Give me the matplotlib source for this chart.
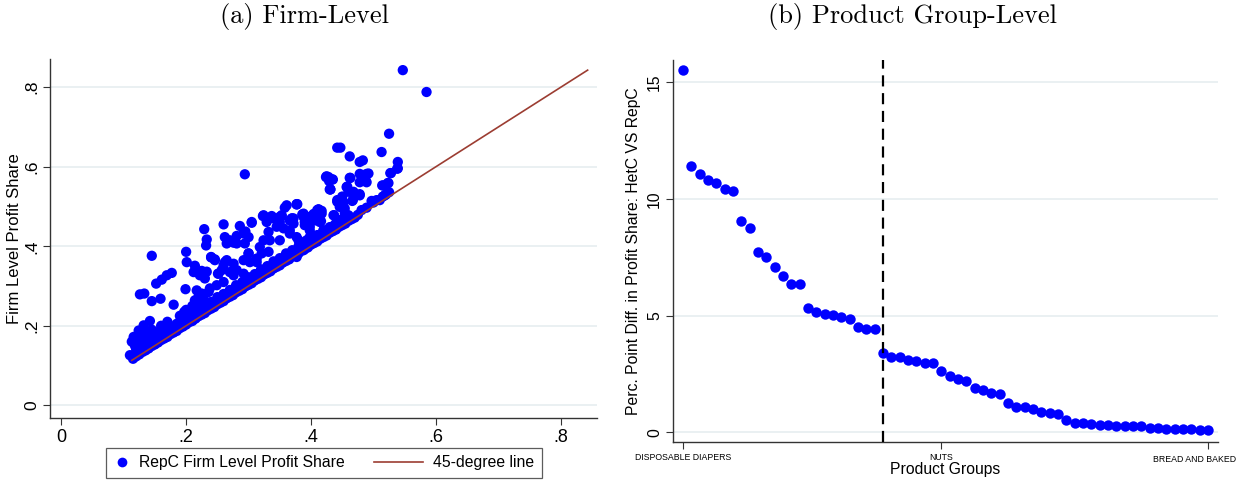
import matplotlib
matplotlib.use("Agg")
import matplotlib.pyplot as plt
from matplotlib.lines import Line2D
from matplotlib.legend_handler import HandlerBase

plt.rcParams['font.family'] = ['Liberation Sans', 'DejaVu Sans']

# (a) firm level: RepC profit share
firm_x = [
    0.547, 0.585, 0.525, 0.442, 0.447, 0.513, 0.462, 0.294, 0.478, 0.483,
    0.539, 0.539, 0.425, 0.434, 0.462, 0.478, 0.489, 0.478, 0.489, 0.528,
    0.514, 0.523, 0.430, 0.458, 0.468, 0.478, 0.450, 0.466, 0.442, 0.378,
    0.358, 0.323, 0.337, 0.353, 0.370, 0.386, 0.404, 0.412, 0.416, 0.437,
    0.260, 0.286, 0.305, 0.229, 0.295, 0.262, 0.281, 0.276, 0.233, 0.200,
    0.145, 0.240, 0.246, 0.300, 0.313, 0.292, 0.262, 0.201, 0.214, 0.225,
    0.233, 0.177, 0.169, 0.161, 0.152, 0.251, 0.199, 0.126, 0.133, 0.145,
    0.159, 0.180, 0.220, 0.217, 0.228, 0.236, 0.197, 0.156, 0.142, 0.132,
    0.124, 0.116, 0.113, 0.110,
    # middle cluster
    0.377, 0.388, 0.390, 0.350, 0.366, 0.372, 0.329, 0.345, 0.356, 0.332,
    0.324, 0.318, 0.334, 0.350, 0.366, 0.377, 0.382, 0.398, 0.406, 0.292,
    0.300, 0.294, 0.265, 0.270, 0.281, 0.232, 0.240, 0.246, 0.212, 0.222,
    0.230, 0.260, 0.265, 0.276, 0.281, 0.292, 0.300, 0.302, 0.313, 0.321,
    0.332, 0.252, 0.257, 0.270, 0.276, 0.217, 0.225, 0.238, 0.249, 0.260,
    0.214, 0.228, 0.366, 0.377, 0.388, 0.393, 0.398,
    # upper right cluster
    0.428, 0.435, 0.463, 0.492, 0.488, 0.527, 0.538, 0.524, 0.516, 0.431,
    0.457, 0.460, 0.468, 0.478, 0.467, 0.452, 0.444, 0.446, 0.454, 0.497,
    0.510, 0.518, 0.377, 0.410, 0.417, 0.372, 0.388, 0.390, 0.406, 0.414,
    0.436, 0.454, 0.481, 0.489, 0.366, 0.380, 0.398, 0.420, 0.438, 0.412,
    0.433, 0.500, 0.505, 0.515, 0.520, 0.525, 0.424, 0.429, 0.431, 0.442,
    0.361, 0.388, 0.353, 0.412, 0.417, 0.324, 0.305, 0.340, 0.350, 0.369,
    0.398,
    # lower left cluster
    0.118, 0.120, 0.125, 0.128, 0.132, 0.135, 0.138, 0.140, 0.145, 0.150,
    0.155, 0.160, 0.165, 0.170, 0.175, 0.185, 0.190, 0.195, 0.200, 0.205,
    0.210, 0.215, 0.220, 0.225, 0.230,
    # band just above the line
    0.115, 0.120, 0.125, 0.130, 0.135, 0.140, 0.145, 0.150, 0.155, 0.160,
    0.165, 0.170, 0.175, 0.180, 0.185, 0.190, 0.195, 0.200, 0.205, 0.210,
    0.215, 0.220, 0.225, 0.230, 0.235, 0.240, 0.245, 0.250, 0.255, 0.260,
    0.265, 0.270, 0.275, 0.280, 0.285, 0.290, 0.295, 0.300, 0.305, 0.310,
    0.315, 0.320, 0.325, 0.330, 0.335, 0.340, 0.345, 0.350, 0.355, 0.360,
    0.365, 0.370, 0.375, 0.380, 0.385, 0.390, 0.395, 0.400, 0.405, 0.410,
    0.415, 0.420, 0.425, 0.430, 0.435, 0.440, 0.445, 0.450, 0.455, 0.460,
    0.465, 0.470, 0.475,
    # second row of the band
    0.120, 0.130, 0.140, 0.150, 0.160, 0.170, 0.180, 0.190, 0.200, 0.210,
    0.220, 0.230, 0.240, 0.250, 0.260, 0.270, 0.280, 0.290, 0.300, 0.310,
    0.320, 0.330, 0.340, 0.350, 0.360, 0.370, 0.380, 0.390, 0.400, 0.410,
    0.420, 0.430, 0.440, 0.450, 0.460,
]
firm_y = [
    0.843, 0.788, 0.683, 0.648, 0.648, 0.637, 0.626, 0.581, 0.612, 0.616,
    0.612, 0.596, 0.576, 0.568, 0.572, 0.582, 0.582, 0.561, 0.561, 0.584,
    0.553, 0.559, 0.543, 0.550, 0.537, 0.531, 0.525, 0.514, 0.512, 0.506,
    0.497, 0.476, 0.476, 0.476, 0.470, 0.480, 0.481, 0.493, 0.463, 0.478,
    0.455, 0.451, 0.459, 0.443, 0.437, 0.423, 0.426, 0.409, 0.417, 0.386,
    0.376, 0.372, 0.367, 0.382, 0.369, 0.365, 0.360, 0.360, 0.351, 0.338,
    0.336, 0.333, 0.327, 0.316, 0.306, 0.331, 0.292, 0.279, 0.281, 0.262,
    0.268, 0.253, 0.273, 0.260, 0.256, 0.285, 0.235, 0.185, 0.212, 0.201,
    0.188, 0.172, 0.160, 0.126,
    0.505, 0.478, 0.461, 0.474, 0.465, 0.457, 0.461, 0.449, 0.445, 0.436,
    0.415, 0.398, 0.415, 0.415, 0.432, 0.423, 0.407, 0.449, 0.465, 0.432,
    0.423, 0.407, 0.407, 0.415, 0.407, 0.402, 0.373, 0.365, 0.335, 0.327,
    0.319, 0.352, 0.365, 0.356, 0.340, 0.331, 0.382, 0.360, 0.360, 0.382,
    0.386, 0.331, 0.340, 0.335, 0.327, 0.289, 0.281, 0.294, 0.302, 0.310,
    0.264, 0.268, 0.382, 0.373, 0.390, 0.415, 0.423,
    0.574, 0.568, 0.572, 0.583, 0.564, 0.584, 0.595, 0.559, 0.553, 0.543,
    0.549, 0.537, 0.533, 0.528, 0.516, 0.511, 0.516, 0.499, 0.495, 0.514,
    0.516, 0.528, 0.506, 0.491, 0.489, 0.470, 0.474, 0.453, 0.482, 0.461,
    0.478, 0.484, 0.491, 0.497, 0.440, 0.415, 0.440, 0.440, 0.453, 0.419,
    0.449, 0.510, 0.516, 0.525, 0.530, 0.536, 0.574, 0.564, 0.543, 0.516,
    0.503, 0.482, 0.478, 0.492, 0.482, 0.478, 0.461, 0.470, 0.461, 0.470,
    0.474,
    0.150, 0.165, 0.158, 0.175, 0.145, 0.185, 0.170, 0.155, 0.190, 0.175,
    0.160, 0.200, 0.180, 0.210, 0.195, 0.205, 0.225, 0.215, 0.240, 0.230,
    0.250, 0.260, 0.245, 0.270, 0.258,
    0.117, 0.123, 0.128, 0.134, 0.138, 0.143, 0.149, 0.153, 0.158, 0.164,
    0.168, 0.172, 0.179, 0.183, 0.187, 0.194, 0.198, 0.203, 0.209, 0.212,
    0.218, 0.224, 0.228, 0.232, 0.239, 0.243, 0.247, 0.254, 0.258, 0.262,
    0.269, 0.273, 0.277, 0.284, 0.288, 0.292, 0.299, 0.303, 0.307, 0.314,
    0.318, 0.322, 0.329, 0.333, 0.337, 0.344, 0.348, 0.352, 0.359, 0.363,
    0.367, 0.374, 0.378, 0.382, 0.389, 0.393, 0.397, 0.404, 0.408, 0.412,
    0.419, 0.423, 0.427, 0.434, 0.438, 0.442, 0.449, 0.453, 0.457, 0.464,
    0.468, 0.472, 0.479,
    0.140, 0.150, 0.160, 0.168, 0.178, 0.190, 0.198, 0.210, 0.222, 0.228,
    0.240, 0.252, 0.260, 0.272, 0.280, 0.290, 0.302, 0.310, 0.322, 0.330,
    0.342, 0.350, 0.362, 0.370, 0.382, 0.390, 0.400, 0.410, 0.420, 0.428,
    0.440, 0.448, 0.458, 0.468, 0.478,
]
diag = [0.113, 0.843]

# (b) product group level: percentage point difference, sorted
group_diff = [
    15.53, 11.43, 11.07, 10.81, 10.67, 10.43, 10.33, 9.07, 8.74, 7.71,
    7.51, 7.09, 6.71, 6.36, 6.36, 5.34, 5.16, 5.07, 5.04, 4.96,
    4.87, 4.53, 4.44, 4.43, 3.40, 3.21, 3.21, 3.11, 3.06, 2.96,
    2.96, 2.61, 2.40, 2.27, 2.20, 1.89, 1.80, 1.70, 1.64, 1.24,
    1.07, 1.07, 1.00, 0.87, 0.83, 0.77, 0.53, 0.40, 0.39, 0.36,
    0.33, 0.33, 0.29, 0.29, 0.29, 0.29, 0.20, 0.17, 0.14, 0.14,
    0.14, 0.13, 0.10, 0.10,
]
group_ticks = [0, 31, 63]
group_names = ["DISPOSABLE DIAPERS", "NUTS", "BREAD AND BAKED"]
cutoff = 24

blue = "#0000FF"
red = "#9C3D32"
grid_col = "#E6EEF0"


class LongLine(HandlerBase):
    # legend key line that reaches further left than the key box
    def create_artists(self, legend, orig_handle, xdescent, ydescent,
                       width, height, fontsize, trans):
        y = height / 2 - ydescent
        ln = Line2D([-xdescent - 24, -xdescent + width], [y, y],
                    color=red, lw=1.2, transform=trans)
        return [ln]


fig = plt.figure(figsize=(12.42, 4.8), dpi=100)

# ---- left panel
ax1 = fig.add_axes([50 / 1242, 1 - 418 / 480, 547 / 1242, 359 / 480])
ax1.scatter(firm_x, firm_y, s=55, color=blue, edgecolors="none", zorder=3)
ax1.plot(diag, diag, color=red, lw=1.2, zorder=4)
ax1.set_xlim(-0.018, 0.858)
ax1.set_ylim(-0.032, 0.871)
ticks = [0, 0.2, 0.4, 0.6, 0.8]
labs = ["0", ".2", ".4", ".6", ".8"]
ax1.set_xticks(ticks)
ax1.set_xticklabels(labs, fontsize=13)
ax1.set_yticks(ticks)
ax1.set_yticklabels(labs, fontsize=12.5, rotation=90, va="center")
ax1.set_ylabel("Firm Level Profit Share", fontsize=12, labelpad=1)

# ---- right panel
ax2 = fig.add_axes([673 / 1242, 1 - 442.3 / 480, 545 / 1242, 382.3 / 480])
ax2.plot(range(len(group_diff)), group_diff, "o", color=blue, ms=7.5,
         mec="none", zorder=3)
ax2.axvline(cutoff, color="black", lw=1.6, ls=(0, (5, 3)), zorder=4)
ax2.set_xlim(-1.2, 64.2)
ax2.set_ylim(-0.43, 15.96)
ax2.set_yticks([0, 5, 10, 15])
ax2.set_yticklabels(["0", "5", "10", "15"], fontsize=11.3, rotation=90,
                    va="center")
ax2.set_xticks(group_ticks)
ax2.set_xticklabels(group_names[:-1] + [""], fontsize=6.3)
# last group name is pulled back inside the figure, as in the original
ax2.annotate(group_names[-1], xy=(group_ticks[-1], 0),
             xycoords=ax2.get_xaxis_transform(), xytext=(-10, -8.8),
             textcoords="offset points", ha="center", va="top", fontsize=6.3)
ax2.set_xlabel("Product Groups", fontsize=11.3, labelpad=0)
ax2.set_ylabel("Perc. Point Diff. in Profit Share: HetC VS RepC",
               fontsize=11.3, labelpad=4)

for ax in (ax1, ax2):
    ax.grid(axis="y", color=grid_col, lw=1.2, zorder=0)
    ax.set_axisbelow(True)
    for s in ("top", "right"):
        ax.spines[s].set_visible(False)
    for s in ("left", "bottom"):
        ax.spines[s].set_color("#333333")
        ax.spines[s].set_linewidth(1.0)
    ax.tick_params(direction="out", length=5, width=0.8, color="#333333",
                   pad=3)

fig.text(304 / 1242, 1 - 17 / 480, "(a) Firm-Level", family="cmr10",
         fontsize=19, ha="center", va="center")
fig.text(913 / 1242, 1 - 17 / 480, "(b) Product Group-Level", family="cmr10",
         fontsize=19, ha="center", va="center")

dot_key = Line2D([], [], marker="o", ls="none", color=blue, ms=7, mec="none")
line_key = Line2D([], [], color=red, lw=1.2)
leg = fig.legend([dot_key, line_key],
                 ["RepC Firm Level Profit Share", "45-degree line"],
                 handler_map={line_key: LongLine()},
                 loc="center", bbox_to_anchor=(324 / 1242, 1 - 463 / 480),
                 ncol=2, fontsize=11.3, frameon=True, fancybox=False,
                 handlelength=1.0, handletextpad=0.6, columnspacing=4.0,
                 borderpad=0.5, borderaxespad=0)
leg.get_frame().set_edgecolor("#333333")
leg.get_frame().set_linewidth(0.9)

fig.savefig("out.png", dpi=100)
